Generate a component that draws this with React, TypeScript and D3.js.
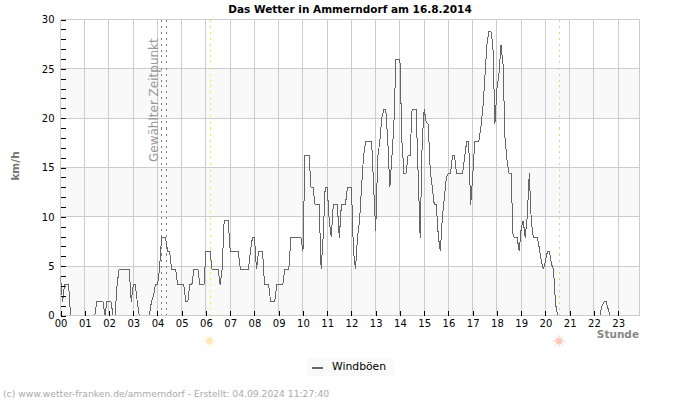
import React, { useEffect, useRef } from 'react';
import * as d3 from 'd3';

const title = 'Das Wetter in Ammerndorf am 16.8.2014';
const footer = '(c) www.wetter-franken.de/ammerndorf - Erstellt: 04.09.2024 11:27:40';
const hourLabels = ['00', '01', '02', '03', '04', '05', '06', '07', '08', '09', '10', '11', '12', '13', '14', '15', '16', '17', '18', '19', '20', '21', '22', '23'];
const yTicks = [0, 5, 10, 15, 20, 25, 30];
const bands = [[0, 5], [10, 15], [20, 25]];

// gusts in km/h, one row per hour, one value every 5 minutes
const gusts = [
  3.9, 1.4, 3.1, 3.1, 3.1, 0, 0, 0, 0, 0, 0, 0,
  0, 0, 0, 0, 0, 0, 1.4, 1.4, 1.4, 1.4, 0, 1.4,
  1.4, 1.4, 0, 0, 3.1, 4.7, 4.7, 4.7, 4.7, 4.7, 4.7, 1.4,
  3.1, 3.1, 1.4, 0, 0, 0, 0, 0, 0, 1.4, 2.0, 3.1,
  3.1, 4.7, 7.9, 7.9, 7.9, 6.5, 6.5, 4.7, 4.7, 4.7, 3.1, 3.1,
  3.1, 3.1, 1.4, 1.4, 3.1, 3.1, 4.7, 4.7, 4.7, 3.1, 3.1, 3.1,
  6.5, 6.5, 6.5, 4.7, 4.7, 4.7, 4.7, 3.1, 4.7, 9.6, 9.6, 9.6,
  6.5, 6.5, 6.5, 6.5, 6.5, 4.7, 4.7, 4.7, 4.7, 4.7, 6.5, 7.9,
  7.9, 4.7, 6.5, 6.5, 6.5, 3.1, 3.1, 3.1, 1.4, 1.4, 1.4, 3.1,
  3.1, 3.1, 3.1, 4.7, 4.7, 4.7, 7.9, 7.9, 7.9, 7.9, 7.9, 7.9,
  6.5, 16.2, 16.2, 16.2, 13, 13, 11.2, 11.2, 11.2, 4.7, 8, 13,
  13, 9.6, 8, 11.2, 11.2, 11.2, 7.9, 11.2, 11.2, 11.2, 13, 13,
  13, 6.5, 4.7, 7.9, 9.6, 13, 16.2, 17.6, 17.6, 17.6, 17.6, 13,
  8.6, 16, 17.6, 20, 20.9, 20.9, 17.6, 13, 16, 19.4, 25.9, 25.9,
  25.9, 17.6, 14.4, 14.4, 16.2, 16.2, 20.9, 20.9, 20.9, 14.4, 7.9, 17.6,
  20.9, 19.6, 19.4, 14.7, 13, 11.2, 11.2, 8, 6.5, 10, 12, 14,
  14.4, 14.4, 16.2, 16.2, 14.4, 14.4, 14.4, 14.4, 16, 17.6, 17.6, 11.2,
  14, 17.6, 17.6, 17.6, 19, 20.9, 24, 27.4, 28.8, 28.8, 27.4, 19.4,
  23, 24.5, 27.4, 25.5, 18, 15.7, 14.4, 14.4, 8, 7.9, 7.9, 6.5,
  8.8, 9.6, 7.9, 10, 14.4, 9.6, 7.9, 7.9, 7.9, 6.8, 5.5, 4.7,
  5.5, 6.5, 6.5, 5.2, 4.7, 1.2, 0, 0, 0, 0, 0, 0,
  0, 0, 0, 0, 0, 0, 0, 0, 0, 0, 0, 0,
  0, 0, 0, 0, 1, 1.4, 1.4, 0.7, 0, 0, 0, 0,
  0, 0, 0, 0, 0, 0, 0, 0, 0, 0,
];

// hours of the day for the vertical markers
const selectedTimes = [4.15, 4.38];
const sunrise = 6.17;
const sunset = 20.58;

const FONT = '"DejaVu Sans", sans-serif';

const App = () => {
  const svgRef = useRef<SVGSVGElement | null>(null);

  useEffect(() => {
    if (!svgRef.current) return;
    const svg = d3.select(svgRef.current);
    svg.selectAll('*').remove();

    const x = d3.scaleLinear().domain([0, 23.88]).range([60.5, 639.5]);
    const y = d3.scaleLinear().domain([0, 30]).range([315.5, 19.5]);

    svg.append('defs').append('clipPath').attr('id', 'plot')
      .append('rect').attr('x', x(0)).attr('y', y(30)).attr('width', x(23.88) - x(0)).attr('height', y(0) - y(30));

    // background bands
    svg.append('g').selectAll('rect').data(bands).join('rect')
      .attr('x', x(0)).attr('width', x(23.88) - x(0))
      .attr('y', d => y(d[1])).attr('height', d => y(d[0]) - y(d[1]))
      .attr('fill', '#f9f9f9');

    // grid
    const grid = svg.append('g').attr('stroke', '#cccccc').attr('shape-rendering', 'crispEdges');
    grid.selectAll('line.h').data(yTicks).join('line').attr('class', 'h')
      .attr('x1', x(0)).attr('x2', x(23.88)).attr('y1', d => y(d)).attr('y2', d => y(d));
    grid.selectAll('line.v').data(hourLabels).join('line').attr('class', 'v')
      .attr('x1', (_, i) => x(i)).attr('x2', (_, i) => x(i)).attr('y1', y(30)).attr('y2', y(0));
    grid.append('line').attr('x1', x(23.88)).attr('x2', x(23.88)).attr('y1', y(30)).attr('y2', y(0));

    // marker lines
    const markers = svg.append('g').attr('stroke-dasharray', '2 4').attr('shape-rendering', 'crispEdges');
    const marker = (h: number, color: string) =>
      markers.append('line').attr('x1', x(h)).attr('x2', x(h)).attr('y1', y(30)).attr('y2', y(0)).attr('stroke', color);
    selectedTimes.forEach(h => marker(h, '#808080'));
    marker(sunrise, '#f7ee3c');
    marker(sunset, '#f5c98a');

    svg.append('text')
      .attr('transform', `translate(${x(selectedTimes[0]) - 3.5},162) rotate(-90)`)
      .attr('font-family', FONT).attr('font-size', 12).attr('fill', '#999999')
      .text('Gewählter Zeitpunkt');

    // gust line
    const line = d3.line<number>().x((_, i) => x(i / 12)).y(d => y(d));
    svg.append('path').datum(gusts)
      .attr('clip-path', 'url(#plot)')
      .attr('d', line)
      .attr('fill', 'none').attr('stroke', '#666666').attr('stroke-width', 1)
      .attr('shape-rendering', 'crispEdges');

    // baseline on top of the zero values
    svg.append('line').attr('x1', x(0)).attr('x2', x(23.88)).attr('y1', y(0)).attr('y2', y(0))
      .attr('stroke', '#cccccc').attr('shape-rendering', 'crispEdges');

    // axes, ticks pointing into the plot
    const yAxis = d3.axisLeft(y).tickValues(d3.range(0, 31)).tickSize(-5)
      .tickFormat(d => (yTicks.includes(+d) ? String(d) : ''));
    const yG = svg.append('g').attr('transform', `translate(${x(0)},0)`).call(yAxis);
    const xAxis = d3.axisBottom(x).tickValues(d3.range(0, 24)).tickSize(-5)
      .tickFormat((_, i) => hourLabels[i]);
    const xG = svg.append('g').attr('transform', `translate(0,${y(0)})`).call(xAxis);
    [yG, xG].forEach(g => {
      g.select('.domain').remove();
      g.selectAll('line').attr('stroke', '#000').attr('shape-rendering', 'crispEdges');
      g.selectAll('text').attr('font-family', FONT).attr('font-size', 10).attr('fill', '#000');
    });
    yG.selectAll('text').attr('x', -6);
    xG.selectAll('text').attr('y', 4).attr('dy', '0.71em');

    // sun symbols
    const drawSun = (h: number, color: string) => {
      const g = svg.append('g').attr('transform', `translate(${x(h) - 0.5},341)`);
      g.append('circle').attr('r', 3).attr('fill', color);
      g.selectAll('line').data(d3.range(0, 8)).join('line')
        .attr('x1', d => 3 * Math.cos((d * Math.PI) / 4)).attr('y1', d => 3 * Math.sin((d * Math.PI) / 4))
        .attr('x2', d => 5.8 * Math.cos((d * Math.PI) / 4)).attr('y2', d => 5.8 * Math.sin((d * Math.PI) / 4))
        .attr('stroke', color).attr('stroke-width', 1);
    };
    drawSun(sunrise, '#fde7b0');
    drawSun(sunset, '#fcc8b4');

    // titles
    svg.append('text').attr('x', 350).attr('y', 13).attr('text-anchor', 'middle')
      .attr('font-family', FONT).attr('font-size', 10.5).attr('font-weight', 'bold').attr('fill', '#000')
      .text(title);
    svg.append('text').attr('transform', 'translate(19,166) rotate(-90)').attr('text-anchor', 'middle')
      .attr('font-family', FONT).attr('font-size', 10.5).attr('font-weight', 'bold').attr('fill', '#777777')
      .text('km/h');
    svg.append('text').attr('x', 639).attr('y', 338).attr('text-anchor', 'end')
      .attr('font-family', FONT).attr('font-size', 10.5).attr('font-weight', 'bold').attr('fill', '#888888')
      .text('Stunde');

    // legend
    svg.append('rect').attr('x', 307).attr('y', 358).attr('width', 87).attr('height', 18).attr('fill', '#f9f9f9');
    svg.append('line').attr('x1', 312).attr('x2', 323).attr('y1', 367.5).attr('y2', 367.5)
      .attr('stroke', '#666666').attr('stroke-width', 2).attr('shape-rendering', 'crispEdges');
    svg.append('text').attr('x', 332).attr('y', 370)
      .attr('font-family', FONT).attr('font-size', 10.8).attr('fill', '#000').text('Windböen');

    // footer
    svg.append('text').attr('x', 3).attr('y', 397)
      .attr('font-family', FONT).attr('font-size', 9.2).attr('fill', '#aaaaaa').text(footer);
  }, []);

  return (
    <svg
      ref={svgRef}
      width={700}
      height={400}
      style={{ position: 'absolute', left: 0, top: 0, background: '#fff' }}
    />
  );
};

export default App;
